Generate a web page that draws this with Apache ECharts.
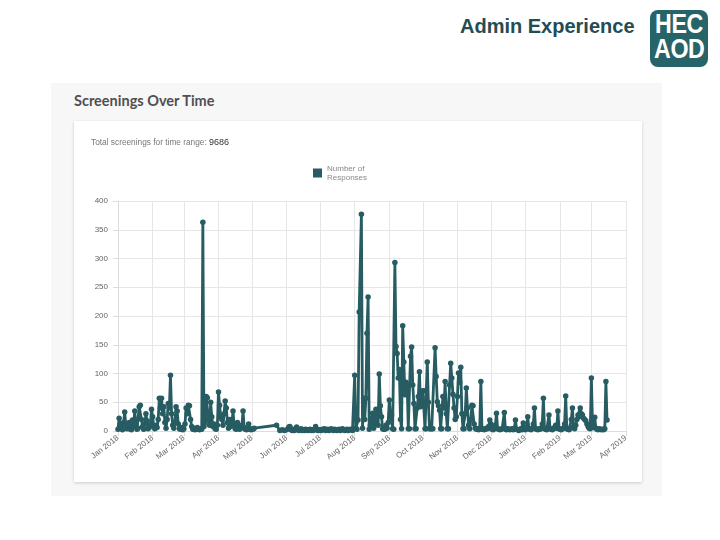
<!DOCTYPE html>
<html>
<head>
<meta charset="utf-8">
<title>Screenings Over Time</title>
<script src="https://cdn.jsdelivr.net/npm/echarts@6/dist/echarts.min.js"></script>
<style>
  body { margin: 0; width: 720px; height: 540px; position: relative; overflow: hidden; background: #fff; font-family: 'Liberation Sans', Arial, sans-serif; }
  .abs { position: absolute; }
  #slide-title { left: 460px; top: 16px; font-size: 20px; line-height: 20px; font-weight: bold; color: #244c52; white-space: nowrap; }
  #logo { left: 650px; top: 10px; width: 58px; height: 57px; border-radius: 8px; background: #27646a; color: #fff; font-weight: bold; font-size: 27px; line-height: 25px; text-align: center; padding-top: 2px; box-sizing: border-box; }
  #logo div { transform: scaleX(0.86); letter-spacing: -0.5px; }
  #panel { left: 51px; top: 83px; width: 611px; height: 413px; background: #f7f7f7; }
  #panel-title { left: 74px; top: 94px; font-family: Lato, 'Open Sans', sans-serif; font-weight: bold; font-size: 14.5px; line-height: 14px; color: #505050; }
  #card { left: 74px; top: 121px; width: 568px; height: 361px; background: #fff; box-shadow: 0 1px 3px rgba(0, 0, 0, 0.18); }
  #chart { left: 0; top: 0; width: 720px; height: 540px; }
</style>
</head>
<body>
<div id="slide-title" class="abs">Admin Experience</div>
<div id="logo" class="abs"><div>HEC</div><div>AOD</div></div>
<div id="panel" class="abs"></div>
<div id="panel-title" class="abs">Screenings Over Time</div>
<div id="card" class="abs"></div>
<div id="chart" class="abs"></div>
<script>
  // daily responses, one array per month (null = no data that day)
  var jan18 = [3, 22, 12, 8, 2, 15, 33, 10, 4, 6, 15, 3, 2, 19, 8, 35, 12, 3, 5, 42, 45, 20, 8, 3, 12, 30, 18, 4, 6, 10, 38];
  var feb18 = [25, 8, 4, 10, 6, 20, 57, 40, 57, 30, 42, 15, 5, 20, 48, 40, 97, 30, 10, 5, 15, 42, 35, 12, 4, 3, 6, 2];
  var mar18 = [4, 12, 40, 30, 45, 44, 20, 8, 3, 5, 2, 4, 6, 3, 2, 4, 3, 363, 8, 15, 60, 58, 20, 10, 50, 25, 8, 12, 4, 3, 10];
  var apr18 = [68, 45, 25, 20, 10, 30, 52, 40, 15, 5, 20, 8, 12, 35, 10, 4, 3, 15, 8, 3, 5, 10, 35, 6, 3, 2, 4, 12, 3, 2];
  var may18 = [4, 3, 5, null, null, null, null, null, null, null, null, null, null, null, null, null, null, null, null, null, null, null, 10, null, null, 1, null, 2, null, 1, null];
  var jun18 = [2, null, 7, 8, 2, 1, 3, 1, 2, 7, 3, 1, 2, 4, 1, 2, 1, 3, 2, 1, 2, 3, 1, 2, 1, 3, 8, 2, 1, 2];
  var jul18 = [2, 1, 3, 2, 4, 1, 2, 3, 1, 2, 4, 2, 1, 3, 2, 1, 2, 3, 1, 2, 4, 2, 1, 2, 3, 1, 2, 3, 2, 1, 4];
  var aug18 = [97, 5, 3, 19, 207, null, 377, 5, 57, 20, 57, 170, 233, 3, 10, 20, 31, 5, 12, 38, 25, 10, 99, 44, 25, 4, 3, 3, 10, 5, 15];
  var sep18 = [54, 30, 28, 4, 3, 293, 147, 135, 92, 107, 20, 4, 183, 120, 63, 85, 80, 4, 4, 130, 146, 80, 48, 4, 4, 40, 60, 103, 42, 60];
  var oct18 = [70, 70, 4, 4, 120, 50, 4, 4, 4, 4, null, 145, 95, 51, 44, 36, 4, 4, 60, 40, 86, 30, 4, 4, 80, 118, 92, 64, 40, 20, 25];
  var nov18 = [60, 101, 85, 111, 30, 4, 4, 30, 75, 40, 10, 4, 20, 45, 44, 12, 5, 3, 4, 2, 5, 86, 3, 4, 2, 3, 5, 4, 8, 19];
  var dec18 = [12, 3, 2, 4, 10, 31, 4, 3, 2, 3, 4, 5, 32, 3, 2, 4, 3, 2, 3, 4, 2, 5, 19, 3, 2, 1, 3, 4, 2, 14, 3];
  var jan19 = [2, 6, 25, 4, 3, 2, 5, 12, 40, 4, 3, 2, 4, 3, 5, 12, 57, 4, 3, 2, 5, 28, 4, 3, 2, 4, 6, 10, 5, 35, 4];
  var feb19 = [3, 2, 4, 5, 12, 61, 4, 3, 2, 5, 20, 40, 8, 4, 10, 20, 28, 25, 40, 30, 28, 22, 20, 18, 12, 8, 5, 4];
  var mar19 = [92, 12, 6, 24, 5, 3, 2, 4, 3, 2, 3, 2, 4, 86, 19];

  var monthlyValues = [jan18, feb18, mar18, apr18, may18, jun18, jul18, aug18, sep18, oct18, nov18, dec18, jan19, feb19, mar19];
  var monthNames = ['Jan', 'Feb', 'Mar', 'Apr', 'May', 'Jun', 'Jul', 'Aug', 'Sep', 'Oct', 'Nov', 'Dec'];
  var totalScreenings = 9686;
  var seriesName = 'Number of Responses';
  var lineColor = '#265c62';

  // month index m counts from Jan 2018
  var seriesData = [];
  monthlyValues.forEach(function(vals, m) {
    vals.forEach(function(v, d) {
      if (v !== null) seriesData.push([new Date(2018, m, d + 1).getTime(), v]);
    });
  });

  var chart = echarts.init(document.getElementById('chart'), null, { renderer: 'canvas' });

  var option = {
    animation: false,
    backgroundColor: 'transparent',
    textStyle: { fontFamily: "'Liberation Sans', Arial, sans-serif" },
    title: {
      left: 91,
      top: 138,
      padding: 0,
      text: 'Total screenings for time range: {b|' + totalScreenings + '}',
      textStyle: {
        fontSize: 8.3,
        fontWeight: 'normal',
        color: '#777',
        rich: { b: { fontSize: 9, color: '#333' } }
      }
    },
    legend: {
      left: 313,
      top: 164,
      padding: 0,
      icon: 'rect',
      itemWidth: 9,
      itemHeight: 9,
      formatter: function() { return 'Number of\nResponses'; },
      textStyle: { fontSize: 8, lineHeight: 9, color: '#888' },
      data: [seriesName]
    },
    grid: { left: 118, right: 94, top: 201, bottom: 109, containLabel: false },
    xAxis: {
      type: 'time',
      min: new Date(2018, 0, 1).getTime(),
      max: new Date(2019, 3, 1).getTime(),
      splitNumber: 15,
      axisLine: { lineStyle: { color: '#dcdcdc' } },
      axisTick: { show: true, length: 5, lineStyle: { color: '#dcdcdc' } },
      splitLine: { show: true, lineStyle: { color: '#e6e6e6' } },
      axisLabel: {
        rotate: 38,
        margin: 6,
        fontSize: 8,
        color: '#666',
        hideOverlap: false,
        showMinLabel: true,
        showMaxLabel: true,
        formatter: function(value) {
          var d = new Date(value);
          return monthNames[d.getMonth()] + ' ' + d.getFullYear();
        }
      }
    },
    yAxis: {
      type: 'value',
      min: 0,
      max: 400,
      interval: 50,
      axisLine: { show: true, lineStyle: { color: '#dcdcdc' } },
      axisTick: { show: true, length: 5, lineStyle: { color: '#dcdcdc' } },
      splitLine: { show: true, lineStyle: { color: '#e6e6e6' } },
      axisLabel: { fontSize: 8, color: '#666', margin: 10 }
    },
    series: [{
      name: seriesName,
      type: 'line',
      data: seriesData,
      color: lineColor,
      symbol: 'circle',
      symbolSize: 5.5,
      showSymbol: true,
      showAllSymbol: true,
      lineStyle: { width: 2.8, color: lineColor },
      itemStyle: { color: lineColor }
    }]
  };

  chart.setOption(option);
</script>
</body>
</html>
